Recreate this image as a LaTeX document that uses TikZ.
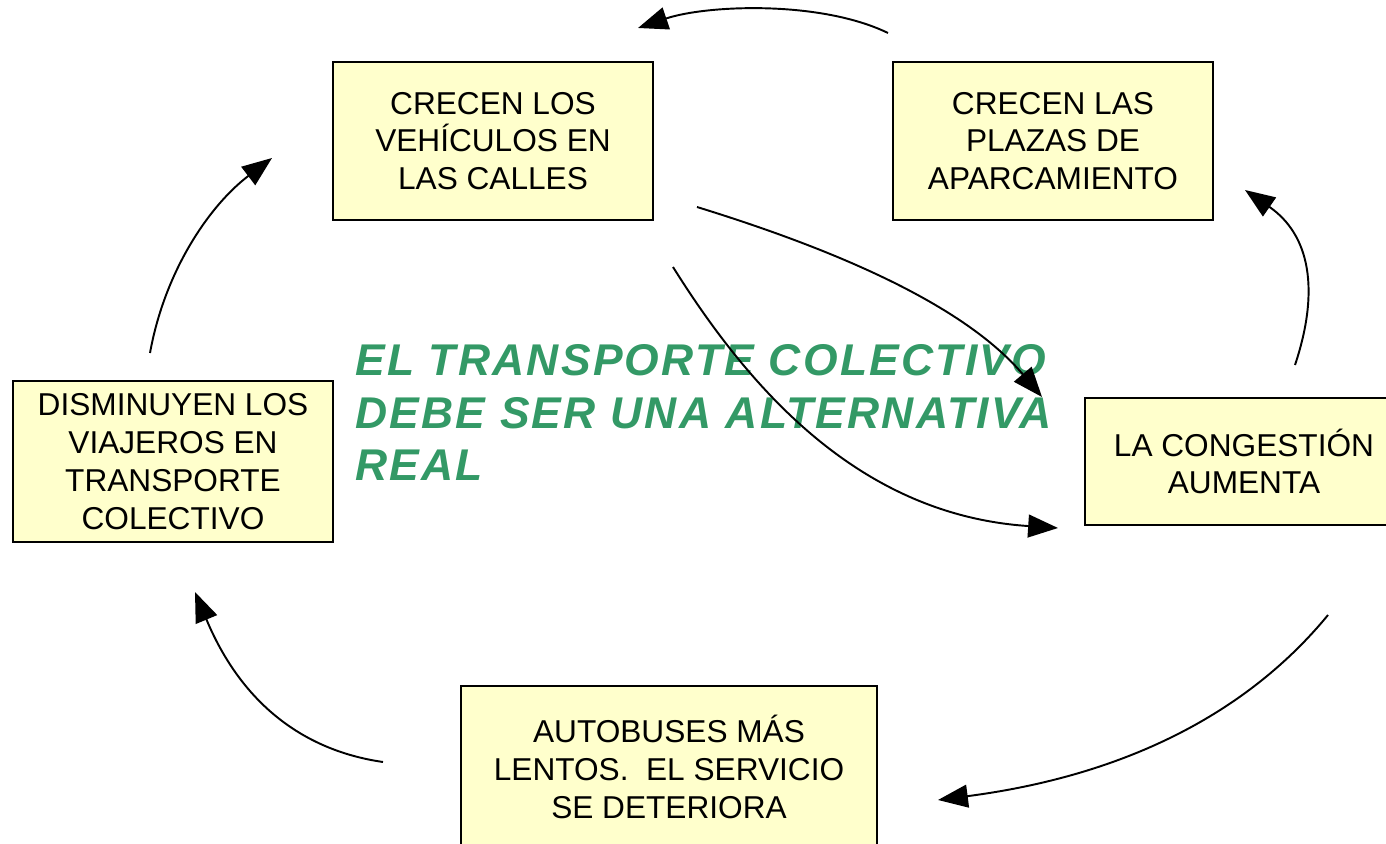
\documentclass[tikz,border=0pt]{standalone}
\usepackage{fontspec}
\setmainfont{Liberation Sans}
\newfontfamily\greenfont[LetterSpace=5]{Liberation Sans}
\usetikzlibrary{arrows.meta}
\definecolor{boxfill}{HTML}{FFFFCC}
\definecolor{slogan}{HTML}{339966}
\tikzset{
  box/.style={draw=black, line width=0.8pt, fill=boxfill, inner sep=0pt, align=center,
    font=\fontsize{18pt}{21.5pt}\selectfont},
  loop/.style={line width=1.1pt, -{Triangle[length=17pt,width=13pt]}},
  green/.style={text=slogan, anchor=base west, inner sep=0pt,
    font=\greenfont\bfseries\itshape\fontsize{25.3pt}{30pt}\selectfont}
}
\begin{document}
\begin{tikzpicture}[x=0.02cm,y=-0.02cm]
\useasboundingbox (0,0) rectangle (1386,844);
\node[box, minimum width=6.4cm, minimum height=3.16cm] (veh) at (493,141) {CRECEN LOS\\VEHÍCULOS EN\\ LAS CALLES};
\node[box, minimum width=6.4cm, minimum height=3.16cm] (plazas) at (1053,141) {CRECEN LAS\\PLAZAS DE\\APARCAMIENTO};
\node[box, minimum width=6.36cm, minimum height=2.54cm] (cong) at (1244,461.5) {LA CONGESTIÓN\\AUMENTA};
\node[box, minimum width=8.32cm, minimum height=3.24cm] (bus) at (669,767) {AUTOBUSES MÁS\\LENTOS.\ \ EL SERVICIO\\SE DETERIORA};
\node[box, minimum width=6.4cm, minimum height=3.22cm] (viaj) at (173,461.5) {DISMINUYEN LOS\\VIAJEROS EN\\TRANSPORTE\\ COLECTIVO};

\node[green] (g1) at (355,376) {EL TRANSPORTE COLECTIVO};
\node[green] (g2) at (355,428) {DEBE SER UNA ALTERNATIVA};
\node[green] (g3) at (355,480) {REAL};

\coordinate (a1) at (888,33);  \coordinate (a2) at (638,28);
\coordinate (b1) at (1295,365); \coordinate (b2) at (1245,190);
\coordinate (c1) at (697,207); \coordinate (c2) at (1042,397);
\coordinate (d1) at (673,267); \coordinate (d2) at (1058,528);
\coordinate (e1) at (1328,615); \coordinate (e2) at (938,800);
\coordinate (f1) at (383,762); \coordinate (f2) at (195,592);
\coordinate (h1) at (150,353); \coordinate (h2) at (272,158);

\draw[loop] (a1) .. controls (820,0) and (706,5) .. (a2);
\draw[loop] (b1) .. controls (1320,290) and (1310,235) .. (b2);
\draw[loop] (c1) .. controls (820,245) and (960,300) .. (c2);
\draw[loop] (d1) .. controls (750,390) and (860,515) .. (d2);
\draw[loop] (e1) .. controls (1250,710) and (1130,775) .. (e2);
\draw[loop] (f1) .. controls (300,750) and (240,700) .. (f2);
\draw[loop] (h1) .. controls (165,270) and (210,205) .. (h2);
\end{tikzpicture}
\end{document}
